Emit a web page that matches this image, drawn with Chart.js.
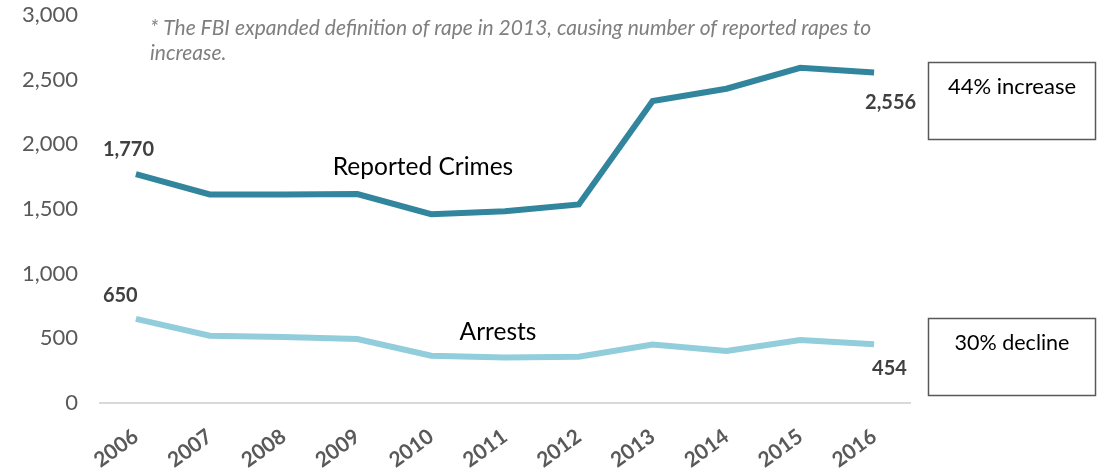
<!DOCTYPE html>
<html>
<head>
<meta charset="utf-8">
<script src="https://cdn.jsdelivr.net/npm/chart.js@4.4.0/dist/chart.umd.min.js"></script>
<style>
  html, body { margin: 0; padding: 0; background: #fff; }
  #wrap { width: 1106px; height: 470px; }
</style>
</head>
<body>
<div id="wrap"><canvas id="crimeChart" width="1106" height="470"></canvas></div>
<script>
const years = ['2006', '2007', '2008', '2009', '2010', '2011', '2012', '2013', '2014', '2015', '2016'];
const reportedCrimes = [1770, 1613, 1613, 1616, 1460, 1482, 1535, 2335, 2430, 2592, 2556];
const arrests = [650, 520, 510, 495, 366, 352, 358, 452, 402, 487, 454];
const yMax = 3000;
const yStep = 500;
const footnote = [
  '* The FBI expanded definition of rape in 2013, causing number of reported rapes to',
  'increase.',
];
const changeNotes = ['44% increase', '30% decline'];

const FONT = 'Lato, "Open Sans", sans-serif';
const DARK = '#31859C';
const LIGHT = '#92CDDC';

function fmt(v) {
  return v.toLocaleString('en-US');
}

/** labels, footnote and the two change boxes */
const notes = {
  id: 'notes',
  afterDatasetsDraw(chart) {
    const ctx = chart.ctx;
    const x = chart.scales.x;
    const y = chart.scales.y;
    const last = years.length - 1;
    ctx.save();

    // first / last value labels
    ctx.font = 'bold 20px ' + FONT;
    ctx.fillStyle = '#404040';
    ctx.textBaseline = 'middle';
    ctx.textAlign = 'left';
    ctx.fillText(fmt(reportedCrimes[0]), x.getPixelForValue(0) - 33, y.getPixelForValue(reportedCrimes[0]) - 25);
    ctx.fillText(fmt(arrests[0]), x.getPixelForValue(0) - 33, y.getPixelForValue(arrests[0]) - 23);
    ctx.fillText(fmt(reportedCrimes[last]), x.getPixelForValue(last) - 9, y.getPixelForValue(reportedCrimes[last]) + 30);
    ctx.fillText(fmt(arrests[last]), x.getPixelForValue(last) - 2, y.getPixelForValue(arrests[last]) + 24);

    // series names
    ctx.font = '24.5px ' + FONT;
    ctx.fillStyle = '#000';
    ctx.textAlign = 'center';
    ctx.fillText('Reported Crimes', 423, 167);
    ctx.fillText('Arrests', 498, 332);

    // footnote
    ctx.font = 'italic 21px ' + FONT;
    ctx.fillStyle = '#7F7F7F';
    ctx.textAlign = 'left';
    ctx.fillText(footnote[0], 150, 28);
    ctx.fillText(footnote[1], 150, 53);

    // change boxes
    ctx.strokeStyle = '#595959';
    ctx.lineWidth = 1.5;
    ctx.strokeRect(928.5, 62.5, 167, 77);
    ctx.strokeRect(928.5, 318.5, 167, 77);
    ctx.font = '22px ' + FONT;
    ctx.fillStyle = '#000';
    ctx.textAlign = 'center';
    ctx.fillText(changeNotes[0], 1012, 87);
    ctx.font = '21.5px ' + FONT;
    ctx.fillText(changeNotes[1], 1012, 343);

    ctx.restore();
  },
};

new Chart(document.getElementById('crimeChart').getContext('2d'), {
  type: 'line',
  data: {
    labels: years,
    datasets: [{
      label: 'Reported Crimes',
      data: reportedCrimes,
      borderColor: DARK,
      borderWidth: 6,
      pointRadius: 0,
      tension: 0,
    },
    {
      label: 'Arrests',
      data: arrests,
      borderColor: LIGHT,
      borderWidth: 6,
      pointRadius: 0,
      tension: 0,
    }],
  },
  options: {
    responsive: false,
    animation: false,
    layout: { padding: { left: 0, right: 195, top: 15, bottom: 0 } },
    plugins: {
      legend: { display: false },
      tooltip: { enabled: false },
    },
    scales: {
      x: {
        offset: true,
        grid: { display: false },
        border: { display: false },
        ticks: {
          color: '#595959',
          font: { family: FONT, size: 21, weight: 'bold' },
          minRotation: 36,
          maxRotation: 36,
          padding: 13,
        },
        afterFit(scale) { scale.height = 67; },
      },
      y: {
        min: 0,
        max: yMax,
        border: { display: false },
        grid: {
          drawTicks: false,
          lineWidth: 2,
          color: (c) => (c.tick && c.tick.value === 0 ? '#D9D9D9' : 'rgba(0,0,0,0)'),
        },
        ticks: {
          stepSize: yStep,
          color: '#595959',
          font: { family: FONT, size: 22 },
          padding: 21,
          callback: (v) => fmt(v),
        },
        afterFit(scale) {
          // label padding would otherwise push the plot top down
          scale.width = 99;
          scale.paddingTop = 0;
          scale.paddingBottom = 0;
        },
      },
    },
  },
  plugins: [notes],
});
</script>
</body>
</html>
